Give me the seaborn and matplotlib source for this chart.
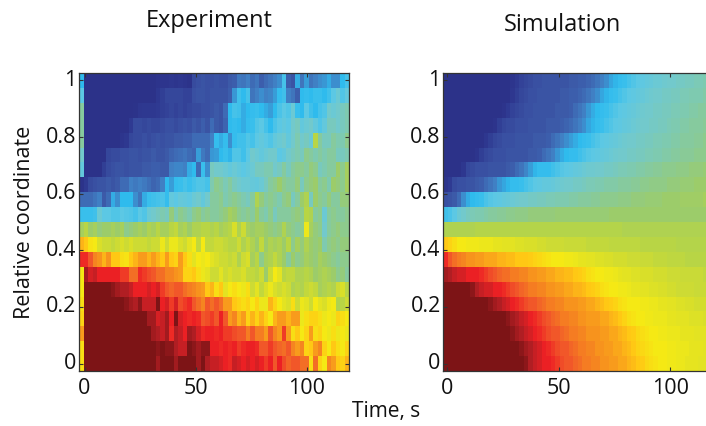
import numpy as np
import pandas as pd
import seaborn as sns
import matplotlib
matplotlib.use('Agg')
import matplotlib.pyplot as plt
from matplotlib.colors import LinearSegmentedColormap

plt.rcParams['font.family'] = ['Open Sans', 'DejaVu Sans']

# Values on a 0-100 scale, top row (coordinate 1) first, one list per row.
exp_rows = [
    [30,2,2,2,2,2,2,2,2,2, 2,2,2,2,2,2,2,4,5,5, 6,5,6,5,3,12,13,14,13,13, 14,13,13,15,16,21,20,22,18,20, 16,18,20,22,24,34,16,14,28,20, 26,20,22,24,25,28,24,24,30,34],
    [38,2,2,2,2,2,2,2,2,2, 2,2,2,2,2,2,2,7,9,11, 11,11,11,10,10,13,14,14,13,14, 14,14,14,16,25,33,30,34,20,22, 24,22,23,26,31,33,22,20,16,30, 31,30,32,32,30,33,38,42,36,40],
    [50,2,2,2,2,2,2,2,2,2, 2,2,3,6,7,7,7,8,9,10, 11,10,11,10,11,12,12,13,13,14, 15,14,18,30,34,33,28,30,31,32, 30,28,26,30,35,38,36,42,32,30, 38,33,30,34,36,44,42,44,46,48],
    [50,2,2,2,2,2,2,2,2,2, 2,8,12,12,11,12,11,11,12,13, 13,12,13,14,13,15,14,16,14,18, 15,14,17,30,31,30,28,31,32,36, 38,34,30,35,38,40,38,44,46,40, 42,44,40,36,40,46,46,44,46,48],
    [50,2,2,2,2,2,2,2,2,5, 7,11,12,12,13,12,13,14,13,14, 14,15,15,16,16,18,18,18,18,22, 31,28,31,24,31,33,33,36,34,38, 40,38,36,40,42,44,40,44,48,44, 46,42,62,50,46,46,50,48,48,52],
    [44,2,2,2,2,2,11,12,12,13, 13,14,14,13,14,14,15,14,14,15, 17,18,19,20,18,17,26,21,18,25, 26,30,32,29,36,36,33,38,44,42, 40,42,44,44,38,40,44,46,48,46, 52,50,48,50,48,50,50,46,46,48],
    [40,2,2,2,2,9,12,13,14,14, 13,14,14,14,15,15,16,16,15,15, 22,23,23,22,28,30,18,32,24,46, 44,44,42,40,42,40,38,40,42,46, 46,48,48,44,46,50,46,50,52,52, 50,54,52,46,48,50,50,56,52,58],
    [3,8,12,13,14,14,15,14,15,18, 18,22,21,22,21,19,17,18,22,30, 26,31,32,34,32,34,36,36,34,48, 52,50,47,50,46,44,42,42,41,40, 42,46,50,52,56,52,50,50,54,46, 52,54,56,50,52,48,56,54,52,58],
    [18,18,18,20,22,15,18,28,24,30, 30,30,24,20,28,32,33,34,35,31, 40,38,41,40,39,42,44,40,44,50, 50,52,48,50,52,50,48,46,50,60, 54,50,52,50,48,52,54,46,50,56, 60,46,56,52,50,54,50,50,54,54],
    [32,32,32,33,42,38,38,36,36,38, 37,36,34,38,36,42,44,46,48,46, 54,48,52,50,48,52,54,50,52,50, 50,52,54,58,56,52,50,52,50,56, 50,48,52,46,50,50,50,52,54,52, 62,60,50,52,42,50,52,50,50,52],
    [58,62,56,58,54,56,56,58,56,58, 52,54,56,58,56,60,58,62,58,58, 62,64,58,60,56,60,60,62,62,60, 62,58,60,62,68,60,66,58,56,58, 58,56,54,52,54,60,54,52,50,52, 72,58,54,52,44,50,52,54,52,52],
    [82,80,75,74,68,66,66,64,66,68, 66,68,66,66,66,64,66,66,72,66, 72,72,68,66,70,74,64,74,64,64, 66,66,64,62,62,66,60,64,60,56, 64,56,60,58,60,56,62,52,58,54, 60,56,54,56,48,52,54,52,54,54],
    [93,93,90,86,85,82,85,80,80,76, 75,80,82,84,84,82,84,82,80,84, 80,78,84,80,76,70,74,72,74,70, 68,66,66,64,66,60,66,68,58,62, 52,58,60,64,60,56,50,56,52,54, 58,56,54,58,56,54,52,50,52,52],
    [74,98,95,96,94,94,94,94,94,92, 92,88,88,93,92,91,90,88,88,86, 86,85,84,78,78,80,76,72,70,66, 66,70,66,68,66,66,68,64,64,62, 66,56,66,74,70,62,64,64,60,60, 62,60,56,58,60,58,56,52,54,50],
    [74,100,100,100,100,100,100,99,98,97, 97,96,94,94,94,95,94,95,92,90, 89,90,90,88,87,86,85,84,80,82, 76,80,70,74,76,74,72,76,66,70, 64,68,72,68,66,68,66,60,62,60, 64,66,64,58,60,62,60,66,68,62],
    [76,100,100,100,100,100,100,100,100,100, 99,98,97,99,96,96,96,100,94,95, 92,95,91,92,93,90,88,86,90,88, 90,88,84,84,80,78,76,78,74,78, 72,72,82,78,74,70,68,76,66,72, 70,66,74,70,68,72,74,60,62,66],
    [78,100,100,100,100,100,100,100,100,100, 100,100,100,100,100,98,98,95,96,98, 94,100,95,94,93,94,93,90,91,92, 90,94,90,84,86,82,84,78,82,78, 82,78,74,82,84,84,82,84,84,72, 76,78,78,76,72,74,72,78,76,74],
    [84,100,100,100,100,100,100,100,100,100, 100,100,100,100,100,100,98,97,96,98, 93,97,96,94,98,97,95,93,94,94, 93,94,92,92,91,90,90,87,90,87, 87,84,90,86,84,92,84,76,80,74, 78,84,76,78,74,72,76,72,74,72],
    [76,100,100,100,100,100,100,100,100,100, 100,100,100,100,100,100,100,99,100,99, 99,97,96,96,100,99,98,99,99,94, 94,93,94,93,94,92,93,94,94,93, 90,90,92,90,89,88,90,86,84,86, 78,80,84,86,78,74,80,76,74,78],
    [76,100,100,100,100,100,100,100,100,100, 100,100,100,100,100,100,100,98,100,100, 100,98,100,100,100,100,98,100,97,96, 96,95,94,93,96,95,94,95,94,95, 94,92,94,90,94,91,89,90,90,88, 88,76,88,78,74,86,84,80,78,82],
]

sim_rows = [
    [2,2,2,2,2,2,2,2,2,2, 2,2,2,2,2,5,8,10,11,12, 13,13,14,14,14,14,14,14,15,15, 16,16,17,18,20,22,24,27,29,31, 32,34,36,38,39,40,41,42,42,43, 44,44,45,45,46,46,47,47,48,48],
    [2,2,2,2,2,2,2,2,2,2, 2,2,2,2,2,6,9,11,12,13, 13,14,14,14,14,14,15,15,16,16, 17,18,20,22,24,27,29,31,32,34, 36,38,39,40,41,42,43,44,44,45, 45,46,46,47,47,48,48,48,49,49],
    [2,2,2,2,2,2,2,2,2,2, 2,2,2,4,8,10,11,12,13,13, 14,14,14,14,14,15,15,15,16,18, 20,22,25,28,30,31,32,34,36,38, 39,40,41,42,43,44,44,45,45,46, 46,47,47,48,48,49,49,50,50,51],
    [2,2,2,2,2,2,2,2,2,2, 2,4,9,11,12,12,13,13,13,14, 14,14,14,15,15,15,16,17,18,20, 22,24,27,29,31,32,34,36,38,39, 40,41,42,43,44,44,45,45,46,46, 47,48,48,49,49,50,50,50,51,51],
    [2,2,2,2,2,2,2,2,2,6, 9,11,12,13,13,13,14,14,14,14, 15,15,15,16,18,20,22,24,26,28, 30,31,32,34,36,38,39,40,41,42, 43,44,44,45,45,46,46,47,47,48, 48,49,49,50,50,50,51,51,52,52],
    [2,2,2,2,2,2,2,5,9,11, 12,13,13,13,14,14,14,14,14,15, 15,16,18,20,22,25,28,30,31,31, 33,35,37,38,39,40,41,42,43,44, 44,45,45,46,46,47,47,48,48,49, 49,50,50,51,51,51,52,52,52,53],
    [2,2,2,2,6,11,12,13,13,13, 14,14,14,14,15,16,18,20,23,26, 29,31,31,31,33,35,37,38,39,40, 41,42,43,43,44,44,45,45,46,47, 47,48,48,49,49,50,50,51,51,52, 52,52,53,53,53,54,54,54,55,55],
    [5,8,12,13,13,14,14,15,16,18, 20,22,25,27,29,31,31,32,34,36, 38,39,40,40,41,42,43,44,44,45, 45,46,47,47,48,48,49,49,49,50, 50,50,51,51,52,52,53,53,53,53, 54,54,54,55,55,55,56,56,56,56],
    [13,14,15,18,24,28,30,31,32,35, 37,38,39,40,41,42,43,44,44,45, 45,46,46,47,47,48,48,48,49,49, 50,50,50,51,51,52,52,52,52,53, 53,53,54,54,54,55,55,55,55,56, 56,56,56,57,57,57,57,57,58,58],
    [33,35,38,42,44,46,47,48,48,49, 50,50,51,51,52,52,53,53,53,54, 54,54,54,54,54,55,55,55,55,55, 55,55,55,55,55,55,55,56,56,56, 56,56,56,56,56,56,56,56,56,56, 56,56,56,56,56,56,56,56,56,56],
    [60,60,60,60,60,60,60,61,61,61, 61,61,61,61,61,61,61,61,61,61, 61,61,61,61,61,61,61,61,61,61, 61,61,61,61,61,61,61,61,61,61, 60,60,60,60,60,60,60,60,60,60, 60,60,60,60,60,60,60,60,60,60],
    [80,78,76,74,74,73,73,73,72,72, 72,71,71,70,70,70,69,69,68,68, 68,67,67,66,66,66,66,65,65,65, 65,65,64,64,64,64,64,63,63,63, 63,63,63,63,62,62,62,62,62,62, 62,62,61,61,61,61,61,61,61,61],
    [93,90,88,87,86,85,85,84,84,83, 83,83,82,82,81,81,80,80,80,79, 78,77,76,75,74,74,74,73,73,72, 71,71,70,70,69,69,68,68,67,67, 67,66,66,66,65,65,65,64,64,64, 63,63,63,63,62,62,62,62,62,62],
    [98,97,96,95,95,94,94,94,93,92, 91,90,89,88,88,87,87,86,86,85, 85,84,84,83,83,82,82,81,81,80, 79,78,76,75,74,74,73,73,72,71, 70,70,69,69,68,68,68,67,67,67, 66,66,66,65,65,65,65,65,64,64],
    [100,100,100,100,100,100,99,97,96,95, 95,94,94,93,92,91,90,89,88,87, 87,86,86,85,85,84,84,83,83,82, 82,81,80,79,78,76,75,74,74,73, 73,72,71,71,70,70,69,69,68,68, 67,67,66,66,66,66,65,65,65,65],
    [100,100,100,100,100,100,100,100,100,100, 99,98,97,96,95,94,93,92,91,90, 90,89,88,87,87,86,86,85,85,85, 84,84,83,83,82,81,80,79,78,76, 75,74,74,74,73,73,72,72,71,71, 70,70,69,69,68,68,67,67,67,66],
    [100,100,100,100,100,100,100,100,100,100, 100,100,100,100,99,98,97,96,95,94, 93,92,91,90,89,88,87,87,86,86, 85,85,84,84,84,83,83,82,81,80, 78,76,75,74,74,73,73,72,72,72, 71,71,70,70,70,69,69,69,68,68],
    [100,100,100,100,100,100,100,100,100,100, 100,100,100,100,100,99,98,97,96,95, 94,93,92,91,90,90,89,88,87,87, 86,86,85,85,85,84,84,83,83,82, 81,80,79,77,76,75,74,74,73,73, 72,72,72,71,71,71,70,70,70,69],
    [100,100,100,100,100,100,100,100,100,100, 100,100,100,100,100,100,100,99,98,97, 96,95,94,93,92,91,90,90,89,88, 87,87,86,86,85,85,84,84,83,83, 82,81,80,78,77,76,75,74,74,74, 73,73,72,72,72,71,71,71,70,70],
    [100,100,100,100,100,100,100,100,100,100, 100,100,100,100,100,100,100,100,99,97, 96,95,94,94,93,92,91,90,90,89, 88,87,87,86,86,85,85,84,84,83, 83,82,81,80,79,77,76,75,74,74, 73,73,72,72,71,71,71,70,70,69],
]

x_ticks = [0, 50, 100]
y_ticks = [0, 0.2, 0.4, 0.6, 0.8, 1]
y_labels = ['0', '0.2', '0.4', '0.6', '0.8', '1']

# Colores del mapa (jet pasado por CMYK, como en la figura).
nodos = [(0, '#2b2f86'), (8, '#2f3a92'), (14, '#3b55a5'), (22, '#4080c4'), (30, '#2fbcee'),
         (38, '#5cc8e4'), (44, '#72c9cc'), (50, '#85caa0'), (56, '#9ccc6a'), (62, '#b8d545'),
         (68, '#d8df2a'), (74, '#f5ea14'), (80, '#ffc814'), (85, '#f7941d'), (90, '#f15a29'),
         (94, '#ed2024'), (97, '#b51f24'), (100, '#7d1416')]
mapa = LinearSegmentedColormap.from_list('jet_cmyk', [(p / 100, c) for p, c in nodos])

W, H = 706, 426
fig = plt.figure(figsize=(W / 100, H / 100), dpi=100)


def panel(rows, left, width, t0, dt, titulo, title_x, title_y):
    ax = fig.add_axes([left / W, 1 - 371 / H, width / W, 298 / H])
    sns.heatmap(pd.DataFrame(rows), cmap=mapa, vmin=0, vmax=100, cbar=False, ax=ax)
    ax.set_xticks([(t - t0) / dt for t in x_ticks])
    ax.set_xticklabels([str(t) for t in x_ticks], rotation=0)
    ax.set_yticks([0.5 + (1 - y) * 19 for y in y_ticks])
    ax.set_yticklabels(y_labels, rotation=0)
    ax.tick_params(direction='in', top=True, right=True, length=3, width=0.8,
                   color='#333333', labelsize=15.5, labelcolor='#111111', pad=2)
    ax.tick_params(axis='x', pad=5)
    ax.set_xlabel('')
    ax.set_ylabel('')
    for s in ax.spines.values():
        s.set_visible(True)
        s.set_color('#333333')
        s.set_linewidth(0.9)
    fig.text(title_x / W, 1 - title_y / H, titulo, ha='center', va='center',
             fontsize=17, color='#111111')
    return ax


panel(exp_rows, 79, 270, -2.5, 2.027, 'Experiment', 209, 21)
panel(sim_rows, 443.5, 268, -1.5, 2.0, 'Simulation', 562, 25)

fig.text(386 / W, 1 - 412 / H, 'Time, s', ha='center', va='center', fontsize=15, color='#111111')
fig.text(24 / W, 1 - 222 / H, 'Relative coordinate', ha='center', va='center', rotation=90,
         fontsize=15.5, color='#111111')

fig.savefig('out.png', dpi=100)
